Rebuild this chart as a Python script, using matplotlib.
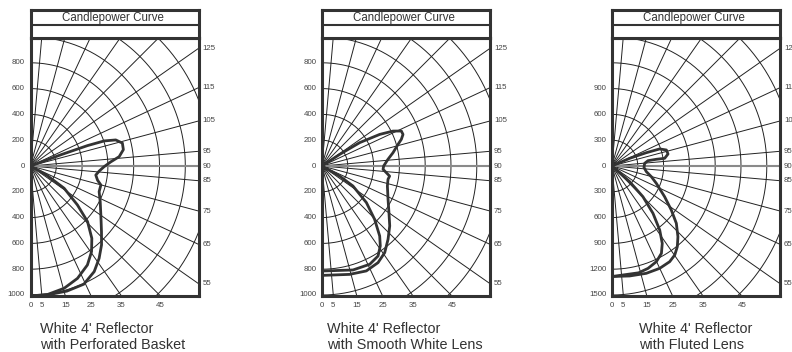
import numpy as np
import matplotlib
matplotlib.use("Agg")
import matplotlib.pyplot as plt

plt.rcParams['font.family'] = ['Liberation Sans', 'DejaVu Sans']

# Candlepower data: angle from nadir (deg) and candela, in path order

# White 4' Reflector with Perforated Basket
basket_a_deg = [111, 110.3, 109.7, 108.8, 107, 104, 100, 96, 93, 89.5, 85.8, 82.1, 78.1,
                74.9, 69.5, 62.9, 55.1, 47.2, 42, 36.6, 31.1, 24.3, 16.2, 7.4, 0]
basket_a_cd = [0, 250, 469, 603, 691, 734, 731, 691, 624, 571, 534, 511, 531,
               565, 568, 607, 665, 750, 823, 892, 956, 1005, 1010, 1008, 1005]
basket_b_deg = [62, 60.3, 56.5, 50.3, 45.7, 40.3, 35.5, 29.9, 22.7, 15.4, 7.5, 0]
basket_b_cd = [0, 150, 313, 473, 618, 735, 815, 885, 944, 983, 1005, 1008]

# White 4' Reflector with Smooth White Lens
smooth_a_deg = [124, 123.3, 121.8, 118.7, 116.2, 113.8, 111.3, 108.6, 105.9, 100.6, 95.8, 90,
                86.9, 84.1, 81.5, 78.6, 73, 63.3, 55.1, 48.5, 42, 35.9, 30.1, 22.9, 14.3, 0]
smooth_a_cd = [0, 164, 344, 510, 613, 672, 674, 649, 613, 560, 514, 478,
               474, 501, 530, 522, 530, 573, 633, 701, 765, 829, 866, 883, 867, 848]
smooth_b_deg = [61, 60.3, 57.1, 50.5, 44.6, 39.5, 36.1, 31.9, 25.9, 16.6, 0]
smooth_b_cd = [0, 157, 286, 446, 581, 703, 767, 822, 847, 841, 814]

# White 4' Reflector with Fluted Lens
fluted_a_deg = [114, 113.5, 111.2, 109.7, 106.4, 102.1, 98.3, 98.6, 98.4, 94.7, 87.5, 80.6,
                74.8, 68.6, 59.7, 53.4, 48.3, 43, 39, 35.2, 31.1, 25, 17.7, 9.1, 0]
fluted_a_cd = [0, 224, 428, 589, 659, 666, 619, 522, 423, 381, 372, 405,
               474, 554, 709, 859, 1002, 1124, 1207, 1266, 1299, 1313, 1310, 1295, 1285]
fluted_b_deg = [49, 48.4, 45.2, 40.9, 36.7, 33, 29.5, 24.9, 19.4, 14, 0]
fluted_b_cd = [0, 274, 507, 728, 928, 1073, 1167, 1226, 1262, 1280, 1285]

left_ticks_small = [800, 600, 400, 200, 0, -200, -400, -600, -800, -1000]
left_ticks_large = [900, 600, 300, 0, -300, -600, -900, -1200, -1500]
bottom_angles = [0, 5, 15, 25, 35, 45]
right_angles = [55, 65, 75, 85, 90, 95, 105, 115, 125]
top_angles = [175, 165, 155, 145, 135]

captions = [("White 4' Reflector", "with Perforated Basket"),
            ("White 4' Reflector", "with Smooth White Lens"),
            ("White 4' Reflector", "with Fluted Lens")]

W, H = 792, 352
fig = plt.figure(figsize=(W / 100, H / 100), dpi=100)

DARK = '#333333'
LABEL = '#444444'


def px_axes(x0, y0, x1, y1):
    return fig.add_axes([x0 / W, 1 - y1 / H, (x1 - x0) / W, (y1 - y0) / H])


def draw_panel(x0, full, step, ticks, curves, caption, cap_x):
    top, mid, bot, width = 37.5, 166.0, 296.0, 168.0
    k = 129.0 / full  # pixels per candela
    ax = px_axes(x0, top, x0 + width, bot)
    xmax = width / k
    ymax = (mid - top) / k
    ymin = -(bot - mid) / k
    ax.set_xlim(0, xmax)
    ax.set_ylim(ymin, ymax)
    ax.set_xticks([])
    ax.set_yticks([])
    for s in ax.spines.values():
        s.set_color(DARK)
        s.set_linewidth(2.2)

    # rings
    t = np.radians(np.linspace(0, 180, 361))
    for r in np.arange(step, full * 1.6, step):
        ax.plot(r * np.sin(t), -r * np.cos(t), color='#222222', lw=0.7)
    # radial lines
    L = full * 3
    for a in range(5, 180, 10):
        ar = np.radians(a)
        ax.plot([0, L * np.sin(ar)], [0, -L * np.cos(ar)], color='#222222', lw=0.7)
    ax.plot([0, xmax], [0, 0], color='#8a8a8a', lw=1.5)

    # curves
    for deg, cd in curves:
        th = np.radians(deg)
        cd = np.asarray(cd, dtype=float)
        ax.plot(cd * np.sin(th), -cd * np.cos(th), color=DARK, lw=2.0,
                solid_joinstyle='round', solid_capstyle='round')

    # left labels
    for v in ticks:
        ax.text(-5.5 / k, v, str(abs(v)), ha='right', va='center',
                fontsize=5.7, color=LABEL, clip_on=False)
    # bottom labels
    for a in bottom_angles:
        x = -ymin * np.tan(np.radians(a))
        ax.text(x, ymin - 9.5 / k, str(a), ha='center', va='center',
                fontsize=5.7, color=LABEL, clip_on=False)
    # right labels
    for a in right_angles:
        y = -xmax / np.tan(np.radians(a)) if a != 90 else 0.0
        ax.text(xmax + 4 / k, y, str(a), ha='left', va='center',
                fontsize=5.7, color=LABEL, clip_on=False)
    # top labels
    for a in top_angles:
        x = ymax * np.tan(np.radians(180 - a))
        ax.text(x, ymax + 6.3 / k, str(a), ha='center', va='center',
                fontsize=5.7, color=LABEL, clip_on=False)

    # header box
    hx = px_axes(x0, 10, x0 + width, top)
    hx.set_xlim(0, 1)
    hx.set_ylim(0, 1)
    hx.set_xticks([])
    hx.set_yticks([])
    for s in hx.spines.values():
        s.set_color(DARK)
        s.set_linewidth(2.2)
    sep = (top - 25) / (top - 10)
    hx.axhline(sep, color=DARK, lw=1.5)
    hx.text(0.49, (sep + 1) / 2, 'Candlepower Curve', ha='center', va='center',
            fontsize=8.3, color=DARK)

    # caption
    fig.text(cap_x / W, 1 - 329 / H, caption[0], ha='left', va='center',
             fontsize=10.4, color=DARK)
    fig.text(cap_x / W, 1 - 345 / H, caption[1], ha='left', va='center',
             fontsize=10.4, color=DARK)


draw_panel(30.5, 1000, 200, left_ticks_small,
           [(basket_a_deg, basket_a_cd), (basket_b_deg, basket_b_cd)], captions[0], 40)
draw_panel(322, 1000, 200, left_ticks_small,
           [(smooth_a_deg, smooth_a_cd), (smooth_b_deg, smooth_b_cd)], captions[1], 327)
draw_panel(612, 1500, 300, left_ticks_large,
           [(fluted_a_deg, fluted_a_cd), (fluted_b_deg, fluted_b_cd)], captions[2], 639)

fig.savefig('out.png', dpi=100)
